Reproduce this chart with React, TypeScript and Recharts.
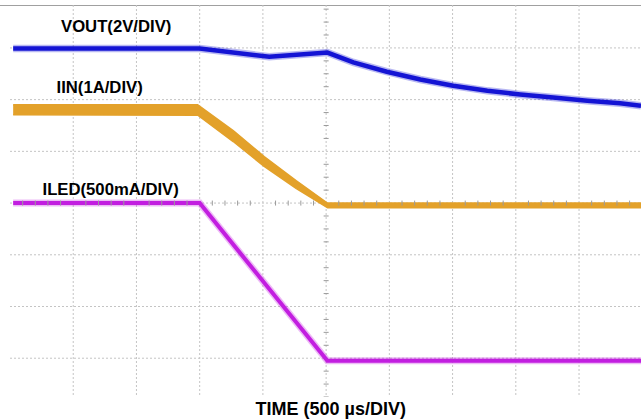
import React from 'react';
import { ComposedChart, Line, Area, Scatter, XAxis, YAxis, CartesianGrid } from 'recharts';

// time in divisions (500 µs/DIV), levels in divisions
const voutTime = [0.05, 3.0, 4.1, 5.02, 5.43, 5.96, 6.49, 7.01, 7.55, 8.07, 8.59, 9.13, 9.65, 9.98];
const voutLevel = [2.99, 2.99, 2.83, 2.91, 2.72, 2.54, 2.39, 2.27, 2.17, 2.1, 2.04, 1.98, 1.93, 1.88];

const iinTime = [0.05, 2.97, 3.53, 4.02, 4.53, 5.02, 9.98];
const iinHigh = [1.9, 1.9, 1.4, 0.9, 0.43, 0.0, 0.0];
const iinLow = [1.71, 1.7, 1.19, 0.71, 0.28, -0.09, -0.09];

const iledTime = [0.05, 3.0, 5.02, 9.98];
const iledLevel = [0, 0, -3.05, -3.05];

const xGrid = [1, 2, 3, 4, 5, 6, 7, 8, 9];
const yGrid = [-3, -2, -1, 0, 1, 2, 3];

const labelVout = 'VOUT(2V/DIV)';
const labelIin = 'IIN(1A/DIV)';
const labelIled = 'ILED(500mA/DIV)';
const labelTime = 'TIME (500 µs/DIV)';

const vout = voutTime.map((x, i) => ({ x, y: voutLevel[i] }));
const iin = iinTime.map((x, i) => ({ x, band: [iinLow[i], iinHigh[i]] }));
const iled = iledTime.map((x, i) => ({ x, y: iledLevel[i] }));

// graticule minor ticks on the centre lines
const xMinor: { x: number; y: number }[] = [];
for (let k = 1; k < 50; k++) if (k % 5 !== 0) xMinor.push({ x: k / 5, y: 0 });
const yMinor: { x: number; y: number }[] = [];
for (let k = -15; k <= 15; k++) if (k % 4 !== 0) yMinor.push({ x: 5, y: k / 4 });

const VTick = (p: any) => (
  <line x1={p.cx} x2={p.cx} y1={p.cy - 2.5} y2={p.cy + 2.5} stroke="#9a9a9a" strokeWidth={1} />
);
const HTick = (p: any) => (
  <line x1={p.cx - 2.5} x2={p.cx + 2.5} y1={p.cy} y2={p.cy} stroke="#9a9a9a" strokeWidth={1} />
);

const BLUE = '#1414d4';
const ORANGE = '#e3a12a';
const MAGENTA = '#c21ee0';

const txt: React.CSSProperties = {
  position: 'absolute',
  fontFamily: '"Liberation Sans", Arial, sans-serif',
  fontWeight: 'bold',
  fontSize: 16.7,
  lineHeight: 1,
  color: '#000',
  whiteSpace: 'nowrap',
};

export default function App() {
  return (
    <div style={{ position: 'absolute', left: 0, top: 0, width: 641, height: 420, background: '#fff', overflow: 'hidden' }}>
      <div style={{ position: 'absolute', left: 0, top: 5, width: 641, height: 0, borderTop: '1px solid #a0a0a0' }} />
      <ComposedChart width={641} height={420} margin={{ top: 5, right: 0, bottom: 23, left: 10 }}>
        <XAxis type="number" dataKey="x" domain={[0, 9.98]} ticks={xGrid} hide allowDataOverflow />
        <YAxis type="number" domain={[-3.75, 3.83]} ticks={yGrid} hide allowDataOverflow />
        <CartesianGrid stroke="#c4c4c4" strokeDasharray="2 2" horizontalValues={yGrid} verticalValues={xGrid} />
        <Scatter data={xMinor} dataKey="y" shape={VTick} isAnimationActive={false} />
        <Scatter data={yMinor} dataKey="y" shape={HTick} isAnimationActive={false} />
        <Line data={vout} dataKey="y" type="linear" stroke={BLUE} strokeOpacity={0.3} strokeWidth={7.5} dot={false} isAnimationActive={false} />
        <Line data={vout} dataKey="y" type="linear" stroke={BLUE} strokeWidth={4.5} dot={false} isAnimationActive={false} />
        <Area data={iin} dataKey="band" type="linear" stroke={ORANGE} strokeWidth={1.5} strokeLinejoin="round" fill={ORANGE} fillOpacity={1} dot={false} isAnimationActive={false} />
        <Line data={iled} dataKey="y" type="linear" stroke={MAGENTA} strokeOpacity={0.3} strokeWidth={7} dot={false} isAnimationActive={false} />
        <Line data={iled} dataKey="y" type="linear" stroke={MAGENTA} strokeWidth={4} dot={false} isAnimationActive={false} />
      </ComposedChart>
      <span style={{ ...txt, left: 61, top: 18.8 }}>{labelVout}</span>
      <span style={{ ...txt, left: 56.5, top: 80.2 }}>{labelIin}</span>
      <span style={{ ...txt, left: 42.5, top: 181.5 }}>{labelIled}</span>
      <span style={{ ...txt, fontSize: 18, left: 255.5, top: 399.7 }}>{labelTime}</span>
    </div>
  );
}
